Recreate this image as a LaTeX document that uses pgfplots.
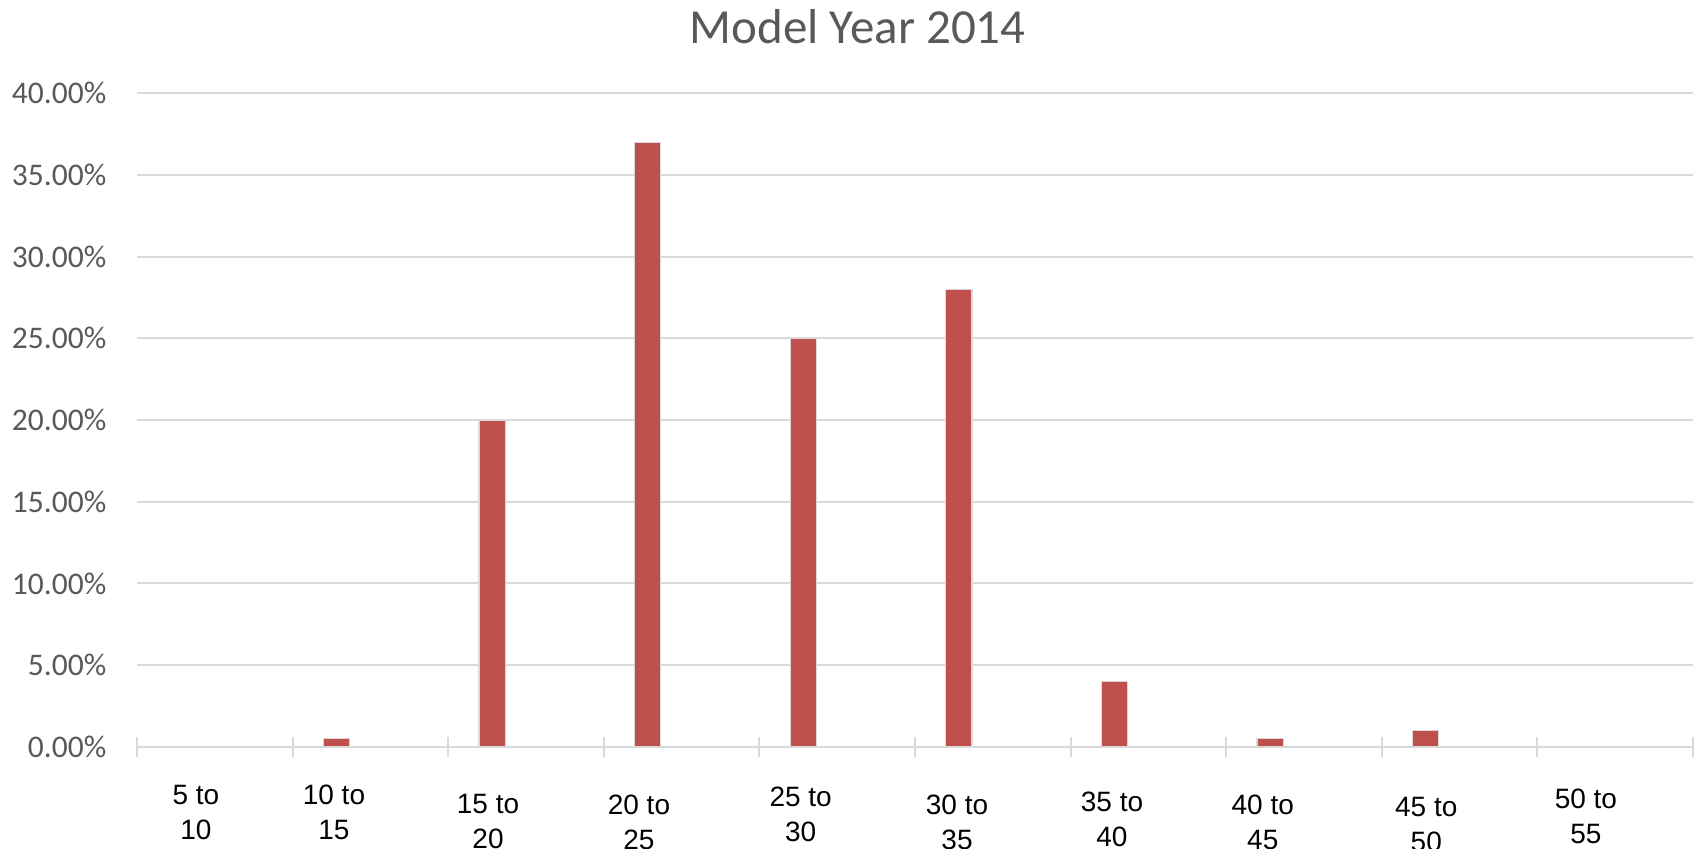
\documentclass[border=0pt]{standalone}
\usepackage{pgfplots}
\pgfplotsset{compat=1.18}
\usepackage{fontspec}
\setmainfont{Carlito}
\newfontfamily\arialfont{Liberation Sans}

\definecolor{barred}{HTML}{C0504D}
\definecolor{txtgray}{HTML}{595959}
\definecolor{gridgray}{HTML}{D9D9D9}

% one label under the axis, lowered by #1
\newcommand{\xlab}[3]{\raisebox{-#1}[\height][\depth]{\begin{tabular}{@{}c@{}}#2\\#3\end{tabular}}}

\begin{document}
\begin{tikzpicture}
\useasboundingbox (0,0) rectangle (849pt,424pt);

\node[anchor=base, font=\fontsize{24.5}{29}\selectfont, text=txtgray, inner sep=0pt]
  at (428.8pt,402.35pt) {Model Year 2014};

\begin{axis}[
    at={(68.5pt,50.6pt)}, anchor=south west,
    scale only axis,
    width=778pt, height=326.8pt,
    xmin=0, xmax=10,
    ymin=0, ymax=40,
    axis lines*=left,
    y axis line style={draw=none},
    x axis line style={gridgray, line width=1pt},
    ymajorgrids=true,
    grid style={gridgray, line width=1pt},
    ytick={0,5,...,40},
    yticklabels={0.00\%,5.00\%,10.00\%,15.00\%,20.00\%,25.00\%,30.00\%,35.00\%,40.00\%},
    yticklabel style={anchor=east, inner sep=0pt, xshift=-15.15pt,
        font=\fontsize{15.75}{19}\selectfont, text=txtgray},
    major y tick style={draw=none},
    xtick={0.379,1.266,2.256,3.226,4.265,5.270,6.266,7.235,8.286,9.312},
    xticklabels={
        \xlab{0pt}{5 to}{10},
        \xlab{0pt}{10 to}{15},
        \xlab{4.5pt}{15 to}{20},
        \xlab{5pt}{20 to}{25},
        \xlab{1pt}{25 to}{30},
        \xlab{5pt}{30 to}{35},
        \xlab{3.5pt}{35 to}{40},
        \xlab{5pt}{40 to}{45},
        \xlab{6pt}{45 to}{50},
        \xlab{2pt}{50 to}{55}},
    xticklabel style={anchor=north, inner sep=0pt, yshift=-16.25pt,
        font=\arialfont\fontsize{14}{17.5}\selectfont, text=black},
    major x tick style={draw=none},
    extra x ticks={0,1,...,10},
    extra x tick labels={},
    extra x tick style={major tick length=10pt, tick align=center,
        major x tick style={draw=gridgray, line width=1pt}},
    clip=false,
]
\addplot[ybar, bar width=0.169, bar shift=0pt, fill=barred, draw=gridgray, line width=0.6pt]
    coordinates {
    (0.282,0) (1.282,0.5) (2.282,20) (3.282,37) (4.282,25)
    (5.282,28) (6.282,4) (7.282,0.5) (8.282,1) (9.282,0)};
\end{axis}
\end{tikzpicture}
\end{document}
